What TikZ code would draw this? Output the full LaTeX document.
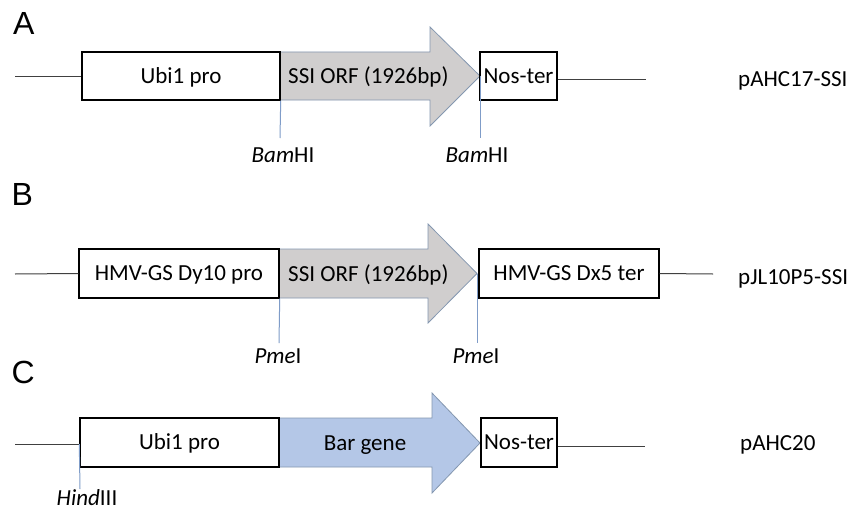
\documentclass[tikz,border=0pt]{standalone}
\usepackage{fontspec}
\setmainfont{Carlito}
\newfontfamily\labfont{Liberation Sans}
\definecolor{grayfill}{HTML}{D0CECE}
\definecolor{arrowedge}{HTML}{8497B0}
\definecolor{bluefill}{HTML}{B4C7E7}
\definecolor{siteblue}{HTML}{7F9CC8}
\definecolor{backbone}{HTML}{404040}
\tikzset{
  gbox/.style={draw=black, line width=1.4pt, fill=white, inner sep=0pt,
    text height=14.8pt, text depth=0pt, font=\fontsize{23}{27}\selectfont},
  gene/.style={draw=arrowedge, line width=0.8pt},
  site/.style={draw=siteblue, line width=1pt},
  bb/.style={draw=backbone, line width=1pt},
  lbl/.style={font=\fontsize{23}{27}\selectfont, inner sep=0pt, anchor=base},
  panel/.style={font=\labfont\fontsize{32}{36}\selectfont, inner sep=0pt, anchor=base west}
}
\begin{document}
\begin{tikzpicture}[x=1pt,y=-1pt]
\useasboundingbox[fill=white] (0,0) rectangle (848,511);

% ---------------- Panel A ----------------
\node[panel] (pa) at (13,35) {A};
\draw[gene, fill=grayfill] (280,52) -- (430,52) -- (430,27) -- (480,76) -- (430,126) -- (430,100) -- (280,100) -- cycle;
\coordinate (tipA) at (480,76);
\node[gbox, minimum width=198pt, minimum height=48pt] (a1) at (181,76) {Ubi1 pro};
\node[gbox, minimum width=77pt, minimum height=48pt] (a3) at (518.5,76) {Nos-ter};
\node[lbl, anchor=base west] (a2) at (288,83.5) {SSI ORF (1926bp)};
\coordinate (aL) at (15,76);
\coordinate (aR) at (646,79);
\draw[bb] (aL) -- (a1.west);
\draw[bb] (a3.east |- aR) -- (aR);
\coordinate (sA1) at (280,138);
\coordinate (sA2) at (480,138);
\draw[site] (a1.south east) -- (sA1);
\draw[site] (tipA) -- (sA2);
\node[lbl] (lA1) at (283,162) {\itshape Bam\upshape HI};
\node[lbl] (lA2) at (477,162) {\itshape Bam\upshape HI};
\node[lbl, anchor=base west] (nA) at (738,86) {pAHC17-SSI};

% ---------------- Panel B ----------------
\node[panel] (pb) at (11.5,205) {B};
\draw[gene, fill=grayfill] (279,249) -- (428,249) -- (428,224) -- (477,273.5) -- (428,323) -- (428,298) -- (279,298) -- cycle;
\coordinate (tipB) at (477,273.5);
\node[gbox, minimum width=200pt, minimum height=49pt] (b1) at (179,273.5) {HMV-GS Dy10 pro};
\node[gbox, minimum width=180pt, minimum height=49pt] (b3) at (569,273.5) {HMV-GS Dx5 ter};
\node[lbl, anchor=base west] (b2) at (288,281) {SSI ORF (1926bp)};
\coordinate (bL) at (15,274);
\coordinate (bR) at (713,274);
\draw[bb] (bL) -- (b1.west);
\draw[bb] (b3.east) -- (bR);
\coordinate (sB1) at (279,343);
\coordinate (sB2) at (477,343);
\draw[site] (b1.south east) -- (sB1);
\draw[site] (tipB) -- (sB2);
\node[lbl] (lB1) at (278,363) {\itshape Pme\upshape I};
\node[lbl] (lB2) at (476,363) {\itshape Pme\upshape I};
\node[lbl, anchor=base west] (nB) at (738,284) {pJL10P5-SSI};

% ---------------- Panel C ----------------
\node[panel] (pc) at (11.5,383) {C};
\draw[gene, fill=bluefill] (279,418) -- (432,418) -- (432,393) -- (480,443) -- (432,493) -- (432,467) -- (279,467) -- cycle;
\node[gbox, minimum width=199pt, minimum height=49pt] (c1) at (179.5,442.5) {Ubi1 pro};
\node[gbox, minimum width=76pt, minimum height=49pt] (c3) at (519,442.5) {Nos-ter};
\node[lbl] (c2) at (365,450) {Bar gene};
\coordinate (cL) at (15,444);
\coordinate (cR) at (645,446);
\draw[bb] (cL) -- (c1.west |- cL);
\draw[bb] (c3.east |- cR) -- (cR);
\coordinate (sC1) at (80,489);
\draw[site] (c1.west |- cL) -- (sC1);
\node[lbl] (lC1) at (87,505) {\itshape Hind\upshape III};
\node[lbl, anchor=base west] (nC) at (740,450) {pAHC20};
\end{tikzpicture}
\end{document}
